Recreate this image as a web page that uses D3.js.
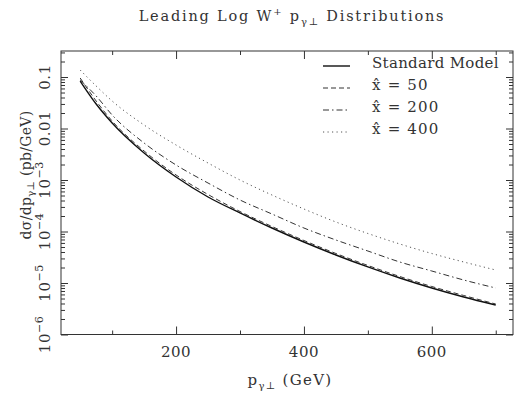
<!DOCTYPE html>
<html>
<head>
<meta charset="utf-8">
<script src="https://cdn.jsdelivr.net/npm/d3@7"></script>
<style>
  body { margin: 0; background: #fff; }
  svg { display: block; }
  text { font-family: "DejaVu Serif", "Liberation Serif", serif; fill: #333; }
  .axis line { stroke: #333; stroke-width: 1; }
  .axis path { display: none; }
</style>
</head>
<body>
<script>
// Transverse momentum of the photon (GeV)
const pT = [50, 75, 100, 150, 200, 250, 300, 350, 400, 450, 500, 550, 600, 650, 700];

// d sigma / d pT (pb/GeV)
const smValues   = [0.0836, 0.0299, 0.01279, 0.003344, 0.001144, 4.68e-4, 2.29e-4, 1.17e-4, 6.25e-5, 3.50e-5, 2.05e-5, 1.25e-5, 8.0e-6, 5.35e-6, 3.74e-6];
const x50Values  = [0.0956, 0.0342, 0.01398, 0.003657, 0.001251, 5.23e-4, 2.445e-4, 1.251e-4, 6.69e-5, 3.74e-5, 2.19e-5, 1.337e-5, 8.55e-6, 5.72e-6, 3.91e-6];
const x200Values = [0.0874, 0.0428, 0.0183, 0.00523, 0.001956, 8.74e-4, 4.09e-4, 2.187e-4, 1.169e-4, 6.84e-5, 4.18e-5, 2.557e-5, 1.71e-5, 1.143e-5, 8.0e-6];
const x400Values = [0.1367, 0.0669, 0.0342, 0.01169, 0.00478, 0.002138, 0.001, 5.11e-4, 2.735e-4, 1.53e-4, 9.15e-5, 5.72e-5, 3.74e-5, 2.557e-5, 1.788e-5];

const seriesNames = ["Standard Model", "50", "200", "400"];

// Axis ticks
const xMajorTicks = [200, 400, 600];
const xMinorTicks = [100, 300, 500, 700];
const yMajorTicks = [0.1, 0.01, 1e-3, 1e-4, 1e-5, 1e-6];
const yTickLabels = [["0.1", ""], ["0.01", ""], ["10", "\u22123"], ["10", "\u22124"], ["10", "\u22125"], ["10", "\u22126"]];

const margin = { top: 51, right: 1, bottom: 60.5, left: 61 };
const outerWidth = 514;
const outerHeight = 395;
const width = outerWidth - margin.left - margin.right;
const height = outerHeight - margin.top - margin.bottom;

const svg = d3.select("body").append("svg")
  .attr("width", outerWidth)
  .attr("height", outerHeight);

const g = svg.append("g")
  .attr("transform", `translate(${margin.left},${margin.top})`);

const x = d3.scaleLinear()
  .domain([20, 727])
  .range([0, width]);

const y = d3.scaleLog()
  .domain([1e-6, 0.32])
  .range([height, 0]);

// Minor log ticks 2..9 inside each decade
const yMinorTicks = [];
for (const d of yMajorTicks) {
  for (let k = 2; k <= 9; k++) {
    const v = k * d;
    if (v < 0.32) yMinorTicks.push(v);
  }
}

// Frame
g.append("rect")
  .attr("width", width)
  .attr("height", height)
  .attr("fill", "none")
  .attr("stroke", "#333")
  .attr("stroke-width", 1);

// Inward ticks on all four sides
function addTicks(axisFn, values, size, transform) {
  g.append("g")
    .attr("class", "axis")
    .attr("transform", transform)
    .call(axisFn.tickValues(values).tickSize(-size).tickFormat(""));
}
addTicks(d3.axisBottom(x), xMajorTicks, 8, `translate(0,${height})`);
addTicks(d3.axisBottom(x), xMinorTicks, 4, `translate(0,${height})`);
addTicks(d3.axisTop(x), xMajorTicks, 8, "translate(0,0)");
addTicks(d3.axisTop(x), xMinorTicks, 4, "translate(0,0)");
addTicks(d3.axisLeft(y), yMajorTicks, 7, "translate(0,0)");
addTicks(d3.axisLeft(y), yMinorTicks, 4, "translate(0,0)");
addTicks(d3.axisRight(y), yMajorTicks, 7, `translate(${width},0)`);
addTicks(d3.axisRight(y), yMinorTicks, 4, `translate(${width},0)`);

// X tick labels
g.selectAll(".xlabel")
  .data(xMajorTicks)
  .join("text")
  .attr("class", "xlabel")
  .attr("x", d => x(d))
  .attr("y", height + 22)
  .attr("text-anchor", "middle")
  .attr("font-size", 15)
  .attr("letter-spacing", 0.5)
  .text(d => d);

// Y tick labels, rotated
yMajorTicks.forEach((v, i) => {
  const t = g.append("text")
    .attr("transform", `translate(-11,${y(v)}) rotate(-90)`)
    .attr("text-anchor", "middle")
    .attr("font-size", 15)
    .attr("letter-spacing", 0.5);
  t.append("tspan").text(yTickLabels[i][0]);
  if (yTickLabels[i][1]) {
    t.append("tspan")
      .attr("dy", -7)
      .attr("font-size", 11)
      .text(yTickLabels[i][1]);
  }
});

// Curves
const line = d3.line()
  .x(d => x(d[0]))
  .y(d => y(d[1]))
  .curve(d3.curveMonotoneX);

const series = [
  { values: smValues,   dash: null,        color: "#111", w: 1.4 },
  { values: x50Values,  dash: "5,3",       color: "#333", w: 1.0 },
  { values: x200Values, dash: "6,3,1.5,3", color: "#333", w: 1.0 },
  { values: x400Values, dash: "1.2,3.3",   color: "#555", w: 1.0 }
];

series.forEach(s => {
  g.append("path")
    .datum(pT.map((p, i) => [p, s.values[i]]))
    .attr("fill", "none")
    .attr("stroke", s.color)
    .attr("stroke-width", s.w)
    .attr("stroke-dasharray", s.dash)
    .attr("d", line);
});

// Legend
const legend = svg.append("g");
series.forEach((s, i) => {
  const yy = 63 + i * 22;
  legend.append("line")
    .attr("x1", 323).attr("x2", 350)
    .attr("y1", yy + 3).attr("y2", yy + 3)
    .attr("stroke", s.color)
    .attr("stroke-width", s.w)
    .attr("stroke-dasharray", s.dash);
  const t = legend.append("text")
    .attr("x", 372)
    .attr("y", yy + 5)
    .attr("font-size", 15)
    .attr("letter-spacing", i === 0 ? 0.3 : 1.2);
  if (i === 0) {
    t.text(seriesNames[0]);
  } else {
    t.text("x\u0302 = " + seriesNames[i]);
  }
});

// Title
const title = svg.append("text")
  .attr("x", 292)
  .attr("y", 21)
  .attr("text-anchor", "middle")
  .attr("font-size", 14.5)
  .attr("letter-spacing", 1.8);
title.append("tspan").text("Leading Log W");
title.append("tspan").attr("dy", -6).attr("font-size", 10).text("+");
title.append("tspan").attr("dy", 6).text(" p");
title.append("tspan").attr("dy", 4).attr("font-size", 10).text("\u03b3\u22a5");
title.append("tspan").attr("dy", -4).text(" Distributions");

// X axis title
const xTitle = svg.append("text")
  .attr("x", 290)
  .attr("y", 385)
  .attr("text-anchor", "middle")
  .attr("font-size", 15)
  .attr("letter-spacing", 1.3);
xTitle.append("tspan").text("p");
xTitle.append("tspan").attr("dy", 4).attr("font-size", 10).text("\u03b3\u22a5");
xTitle.append("tspan").attr("dy", -4).text(" (GeV)");

// Y axis title
const yTitle = svg.append("text")
  .attr("transform", "translate(31,175) rotate(-90)")
  .attr("text-anchor", "middle")
  .attr("font-size", 14)
  .attr("letter-spacing", 0.3);
yTitle.append("tspan").text("d\u03c3/dp");
yTitle.append("tspan").attr("dy", 3).attr("font-size", 10).text("\u03b3\u22a5");
yTitle.append("tspan").attr("dy", -3).text(" (pb/GeV)");
</script>
</body>
</html>
